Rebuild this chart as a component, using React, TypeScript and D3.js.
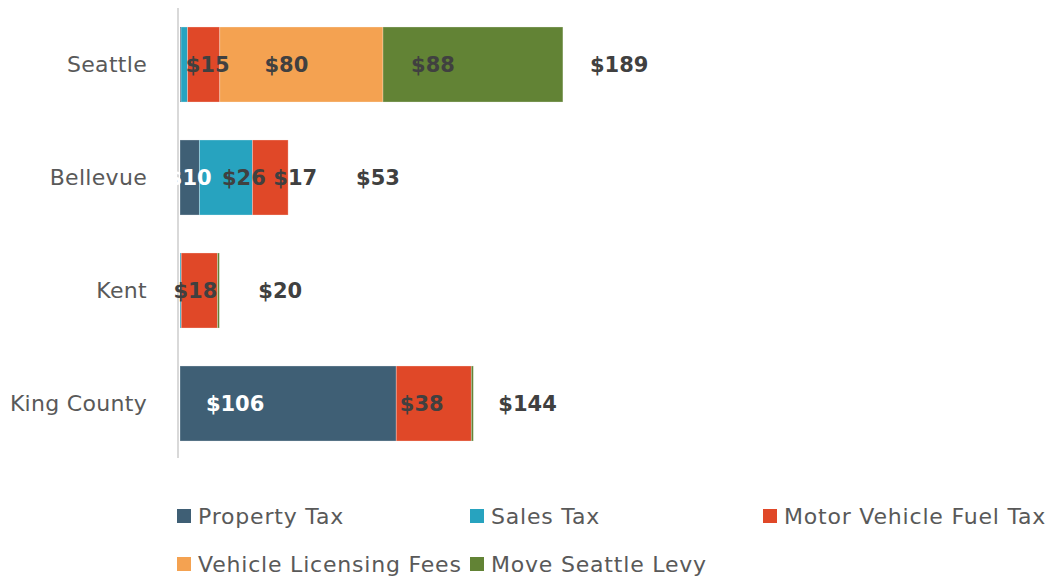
import React from 'react';
import * as d3 from 'd3';

// Per-capita transportation revenue by jurisdiction
const categories = ['Seattle', 'Bellevue', 'Kent', 'King County'];
const seriesNames = ['Property Tax', 'Sales Tax', 'Motor Vehicle Fuel Tax', 'Vehicle Licensing Fees', 'Move Seattle Levy'];
const seriesColors = ['#3f5f75', '#27a3bf', '#e04828', '#f4a251', '#628335'];

const propertyTax = [0.5, 9.5, 0, 106];
const salesTax = [3.2, 26, 0.6, 0];
const fuelTax = [15.8, 17.5, 17.8, 36.8];
const licensingFees = [80, 0, 0, 0];
const moveSeattleLevy = [88.2, 0, 0.9, 1.0];

// labels as shown on the chart (blank = hidden)
const segmentLabels = [
  ['', '', '$15', '$80', '$88'],
  ['$10', '$26', '$17', '', ''],
  ['', '', '$18', '', ''],
  ['$106', '', '$38', '', ''],
];
const totalLabels = ['$189', '$53', '$20', '$144'];

// the labels in the source were dragged off-centre; px nudges from the segment centre
const labelNudge = [
  [0, 0, 4, -15, -40],
  [0, 18, 25, 0, 0],
  [0, 0, -4, 0, 0],
  [-53, 0, -12, 0, 0],
];
const totalGap = [27, 68, 39, 25];

const seriesValues = [propertyTax, salesTax, fuelTax, licensingFees, moveSeattleLevy];

const W = 1050;
const H = 581;
const FONT = '"DejaVu Sans", sans-serif';

export default function App() {
  const rows = categories.map((c, i) => {
    const r: any = { category: c };
    seriesNames.forEach((s, j) => (r[s] = seriesValues[j][i]));
    return r;
  });
  const stacked = d3.stack<any>().keys(seriesNames)(rows);

  const x = d3.scaleLinear().domain([0, 190]).range([180, 180 + 190 * 2.04]);
  const y = d3.scaleBand().domain(categories).range([8, 460]).paddingInner(0.336).paddingOuter(0.168);

  const legendCols = [177, 470, 763];
  const legendRows = [516, 564];

  return (
    <svg width={W} height={H} style={{ position: 'absolute', left: 0, top: 0, background: '#fff' }} fontFamily={FONT}>
      {stacked.map((layer, j) => (
        <g key={layer.key} fill={seriesColors[j]}>
          {layer.map((d, i) => {
            const w = x(d[1]) - x(d[0]);
            if (w <= 0) return null;
            return (
              <rect key={i} x={x(d[0])} y={y(categories[i])} width={w} height={y.bandwidth()}
                stroke="#ffffff" strokeOpacity={0.35} strokeWidth={0.8} />
            );
          })}
        </g>
      ))}

      {/* vertical axis line */}
      <line x1={178} x2={178} y1={y.range()[0]} y2={y.range()[1] - 2} stroke="#d9d9d9" strokeWidth={2} />

      {/* category labels */}
      {categories.map(c => (
        <text key={c} x={147} y={(y(c) ?? 0) + y.bandwidth() / 2} dy="0.35em" textAnchor="end"
          fontSize={22} letterSpacing={0.3} fill="#595959">{c}</text>
      ))}

      {/* segment labels */}
      {stacked.map((layer, j) => layer.map((d, i) => {
        const lbl = segmentLabels[i][j];
        if (!lbl) return null;
        const cx = (x(d[0]) + x(d[1])) / 2 + labelNudge[i][j];
        return (
          <text key={`${j}-${i}`} x={cx} y={(y(categories[i]) ?? 0) + y.bandwidth() / 2} dy="0.36em"
            textAnchor="middle" fontSize={21} fontWeight="bold" fill={j === 0 ? '#ffffff' : '#404040'}>{lbl}</text>
        );
      }))}

      {/* totals */}
      {categories.map((c, i) => {
        const end = stacked[stacked.length - 1][i][1];
        return (
          <text key={c} x={x(end) + totalGap[i]} y={(y(c) ?? 0) + y.bandwidth() / 2} dy="0.36em"
            fontSize={21} fontWeight="bold" fill="#404040">{totalLabels[i]}</text>
        );
      })}

      {/* legend */}
      {seriesNames.map((s, j) => {
        const lx = legendCols[j % 3];
        const ly = legendRows[Math.floor(j / 3)];
        return (
          <g key={s}>
            <rect x={lx} y={ly - 7} width={14} height={14} fill={seriesColors[j]} />
            <text x={lx + 21} y={ly} dy="0.35em" fontSize={22} letterSpacing={0.8} fill="#595959">{s}</text>
          </g>
        );
      })}
    </svg>
  );
}
